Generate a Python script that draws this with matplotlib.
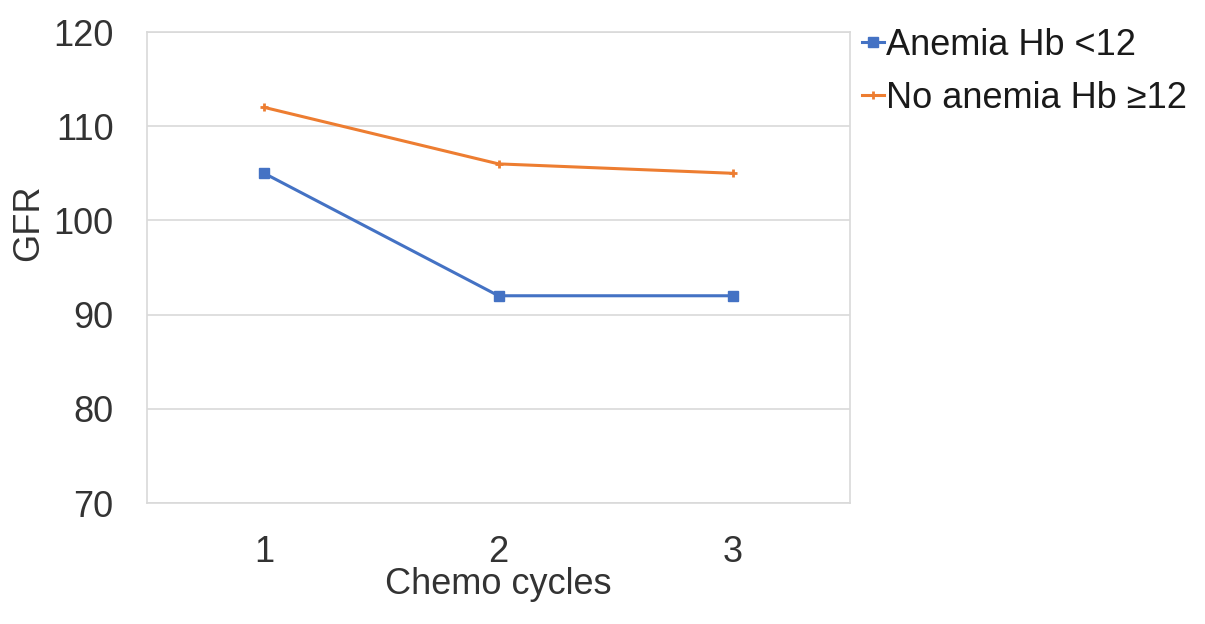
import matplotlib
matplotlib.use("Agg")
import matplotlib.pyplot as plt

plt.rcParams['font.family'] = ['Liberation Sans', 'DejaVu Sans']

cycles = [1, 2, 3]
anemia = [105, 92, 92]
no_anemia = [112, 106, 105]
labels = ['Anemia Hb <12', 'No anemia Hb \u226512']

fig = plt.figure(figsize=(12.05, 6.24), dpi=100)
ax = fig.add_axes([147 / 1205, 1 - 503 / 624, (850 - 147) / 1205, (503 - 32) / 624])

ax.plot(cycles, anemia, color='#4472C4', lw=2.2, marker='s', ms=6.5, label=labels[0])
ax.plot(cycles, no_anemia, color='#ED7D31', lw=2.2, marker='+', ms=6, mew=2, label=labels[1])

ax.set_xlim(0.5, 3.5)
ax.set_ylim(70, 120)
ax.set_yticks(range(70, 121, 10))
ax.set_xticks(cycles)
ax.yaxis.grid(True, color='#d9d9d9', lw=1.2)
ax.set_axisbelow(True)
for s in ax.spines.values():
    s.set_color('#d9d9d9')
    s.set_linewidth(1.2)
ax.tick_params(length=0, labelsize=26, colors='#333333')
ax.tick_params(axis='y', pad=24)
ax.tick_params(axis='x', pad=23)

ax.set_xlabel('Chemo cycles', fontsize=26, color='#333333', labelpad=-2)
ax.set_ylabel('GFR', fontsize=26, color='#333333')
ax.yaxis.set_label_coords(-0.143, 0.595)

ax.legend(loc='upper left', bbox_to_anchor=(0.997, 1.04), frameon=False,
          fontsize=26, handlelength=0.6, handletextpad=0.05, labelspacing=0.5,
          borderaxespad=0, labelcolor='#1a1a1a')

fig.savefig('out.png', dpi=100)
